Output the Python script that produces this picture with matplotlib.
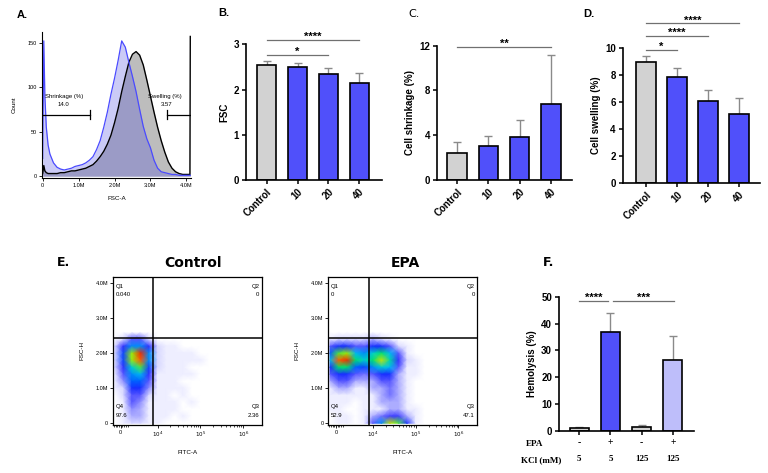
import numpy as np
import matplotlib
matplotlib.use('Agg')
import matplotlib.pyplot as plt
from matplotlib.colors import LinearSegmentedColormap

plt.rcParams['font.family'] = ['Liberation Sans', 'DejaVu Sans']

# ---------------- data ----------------
# A: FSC histogram (x in millions)
fsc_x = [0.0, 0.03, 0.06, 0.1, 0.15, 0.2, 0.3, 0.4, 0.5, 0.6, 0.7, 0.8, 0.9, 1.0,
         1.1, 1.2, 1.3, 1.4, 1.5, 1.6, 1.7, 1.8, 1.9, 2.0, 2.1, 2.2, 2.3, 2.4,
         2.5, 2.6, 2.7, 2.8, 2.9, 3.0, 3.1, 3.2, 3.3, 3.4, 3.5, 3.6, 3.7, 3.8,
         3.9, 4.0, 4.1, 4.11]
fsc_control = [3, 12, 6, 4, 3, 3, 3, 3, 4, 4, 5, 6, 6, 7,
               8, 9, 11, 13, 17, 22, 28, 36, 46, 60, 76, 95, 112, 128,
               137, 140, 136, 125, 108, 90, 72, 55, 40, 27, 16, 9, 5, 3,
               2, 2, 2, 157]
fsc_epa = [20, 152, 90, 55, 35, 25, 15, 10, 8, 7, 8, 9, 11, 12,
           13, 15, 18, 22, 30, 40, 55, 72, 92, 110, 130, 152, 145, 128,
           112, 95, 75, 56, 42, 32, 18, 9, 5, 4, 3, 2, 2, 1,
           1, 1, 1, 1]

# B-D: dose response
doses = ['Control', '10', '20', '40']
fsc_mean = [2.55, 2.50, 2.34, 2.15]
fsc_sd = [0.08, 0.08, 0.13, 0.21]
shrink_mean = [2.45, 3.0, 3.85, 6.75]
shrink_sd = [0.95, 0.9, 1.55, 4.45]
swell_mean = [8.95, 7.9, 6.1, 5.1]
swell_sd = [0.5, 0.62, 0.78, 1.18]

# F: hemolysis
epa_row = ['-', '+', '-', '+']
kcl_row = ['5', '5', '125', '125']
hemo_mean = [1.0, 36.8, 1.2, 26.3]
hemo_sd = [0.5, 7.0, 0.8, 8.9]

# E: flow density grids (x in log-decades, y in millions), rows listed top -> bottom
flow_u = [3.0, 3.2, 3.4, 3.6, 3.8, 4.0, 4.2, 4.4, 4.6, 4.8, 5.0, 5.2, 5.4]
flow_y = [2.6, 2.4, 2.2, 2.0, 1.8, 1.6, 1.4, 1.2, 1.0, 0.8, 0.6, 0.4, 0.2, 0.0]
dens_control = [
    [0, 0, 0, 0, 0, 0, 0, 0, 0, 0, 0, 0, 0],
    [0, 0.5, 1.5, 1.5, 0.5, 0, 0, 0, 0, 0, 0, 0, 0],
    [0.5, 2, 4, 4, 2, 0.5, 0.3, 0.3, 0, 0, 0, 0, 0],
    [0.5, 3, 7, 9.5, 4, 0.5, 0.3, 0.3, 0.3, 0.3, 0, 0, 0],
    [0.5, 3, 7, 9, 4, 0.5, 0.3, 0.3, 0.3, 0.3, 0.3, 0, 0],
    [0.5, 2, 5, 6.5, 3, 0.5, 0.3, 0.3, 0.3, 0, 0, 0, 0],
    [0.3, 1.5, 4, 4.5, 2, 0.3, 0.3, 0.3, 0.3, 0.3, 0, 0, 0],
    [0.3, 1, 3.5, 3.5, 1.5, 0.3, 0.3, 0.3, 0, 0, 0, 0, 0],
    [0.3, 0.5, 2.5, 2.5, 1, 0.3, 0.3, 0.3, 0.3, 0, 0, 0, 0],
    [0, 0.5, 1.5, 1.5, 0.5, 0.3, 0.3, 0, 0.3, 0, 0, 0, 0],
    [0, 0.3, 1.5, 1, 0.3, 0.3, 0.3, 0.3, 0, 0.3, 0, 0, 0],
    [0, 0.3, 1, 0.8, 0.3, 0.3, 0.3, 0.3, 0, 0, 0, 0, 0],
    [0, 0.3, 0.8, 0.8, 0.3, 0.3, 0.3, 0, 0.3, 0, 0, 0, 0],
    [0, 0.3, 0.5, 0.5, 0.3, 0.3, 0, 0, 0, 0, 0, 0, 0],
]
dens_epa = [
    [0, 0, 0, 0, 0, 0, 0, 0, 0, 0, 0, 0, 0],
    [0.3, 0.5, 0.5, 0.5, 0.5, 0.8, 0.5, 0.3, 0, 0, 0, 0, 0],
    [1.5, 2.5, 2.5, 1.5, 1.5, 2.5, 2.5, 1.5, 0.5, 0.3, 0, 0, 0],
    [3.5, 6.5, 7, 4.5, 4, 5, 6, 4.5, 1.5, 0.3, 0, 0, 0],
    [4.5, 9, 9.5, 6, 5, 6, 7.5, 5.5, 2, 0.5, 0.3, 0, 0],
    [2.5, 6, 6, 3.5, 3, 4, 5, 4.5, 1.5, 0.3, 0.3, 0, 0],
    [1.5, 2.5, 2.5, 1.5, 1.2, 1.5, 2.5, 2.5, 0.8, 0.3, 0.3, 0, 0],
    [0.8, 1.5, 1.5, 0.8, 0.8, 0.8, 1.5, 1.5, 0.8, 0.3, 0, 0, 0],
    [0.3, 0.8, 0.8, 0.3, 0.3, 0.8, 0.8, 1.2, 0.8, 0.3, 0, 0, 0],
    [0.3, 0.3, 0.3, 0.3, 0.3, 0.3, 0.8, 1.2, 0.8, 0.3, 0, 0, 0],
    [0.3, 0.3, 0.3, 0, 0.3, 0.3, 0.8, 0.8, 0.8, 0.3, 0, 0, 0],
    [0.3, 0.3, 0, 0, 0.3, 0.3, 0.3, 0.8, 0.8, 0.3, 0.3, 0, 0],
    [0, 0.3, 0.3, 0, 0.3, 0.8, 1.2, 1.8, 1.8, 0.8, 0.3, 0, 0],
    [0, 0.3, 0.3, 0, 0.3, 1.5, 4, 7.5, 6.5, 2.5, 0.3, 0, 0],
]
quad_control = ['0.040', '0', '2.36', '97.6']
quad_epa = ['0', '0', '47.1', '52.9']

GRAY = '#d2d2d2'
BLUE = '#5050fa'
LIGHT = '#bebefa'
ERR = '#8a8a8a'
W, H = 768, 473


def rect(l, r, t, b):
    return [l / W, 1 - b / H, (r - l) / W, (b - t) / H]


fig = plt.figure(figsize=(7.68, 4.73), dpi=100)


def bar_panel(ax, means, sds, colors, ylim, yticks, ylabel, xlim):
    x = np.arange(len(means))
    ax.errorbar(x, means, yerr=[np.zeros(len(sds)), sds], fmt='none',
                ecolor=ERR, elinewidth=1, capsize=3, capthick=1, zorder=1)
    ax.bar(x, means, width=0.62, color=colors, edgecolor='black',
           linewidth=1.2, zorder=2)
    ax.set_xlim(*xlim)
    ax.set_ylim(*ylim)
    ax.set_yticks(yticks)
    ax.set_yticklabels([str(t) for t in yticks], fontsize=7, fontweight='bold')
    ax.set_ylabel(ylabel, fontsize=7, fontweight='bold', labelpad=3)
    for s in ['top', 'right']:
        ax.spines[s].set_visible(False)
    for s in ['left', 'bottom']:
        ax.spines[s].set_linewidth(1.2)
    ax.tick_params(width=1.1, length=3, pad=2)


def sig(ax, x0, x1, y, stars):
    ax.plot([x0, x1], [y, y], color='#707070', lw=0.9, clip_on=False)
    ax.annotate(stars, xy=((x0 + x1) / 2, y), xytext=(0, -1.5),
                textcoords='offset points', ha='center', va='bottom',
                fontsize=8, fontweight='bold', annotation_clip=False)


def dose_xticks(ax):
    ax.set_xticks(range(len(doses)))
    ax.set_xticklabels(doses, rotation=45, ha='right', rotation_mode='anchor',
                       fontsize=7, fontweight='bold')


# ---------------- A ----------------
axA = fig.add_axes(rect(42, 191, 32, 178))
axA.fill_between(fsc_x, fsc_control, color='#bdbdbd', lw=0)
axA.fill_between(fsc_x, fsc_epa, color='#4646e0', alpha=0.28, lw=0)
axA.plot(fsc_x, fsc_control, color='black', lw=1)
axA.plot(fsc_x, fsc_epa, color='#4a4aff', lw=0.9)
axA.set_xlim(-0.02, 4.13)
axA.set_ylim(-2, 162)
axA.set_xticks([0, 1, 2, 3, 4])
axA.set_xticklabels(['0', '1.0M', '2.0M', '3.0M', '4.0M'])
axA.set_yticks([0, 50, 100, 150])
for s in ['top', 'right']:
    axA.spines[s].set_visible(False)
axA.tick_params(labelsize=4, length=2, width=0.6, pad=1.5)
axA.set_xlabel('FSC-A', fontsize=4.5, labelpad=6)
axA.set_ylabel('Count', fontsize=4.5, labelpad=8)
axA.plot([0, 1.33], [69, 69], color='black', lw=0.9)
axA.plot([1.33, 1.33], [64, 74], color='black', lw=0.9)
axA.plot([3.45, 4.12], [69, 69], color='black', lw=0.9)
axA.plot([3.45, 3.45], [64, 74], color='black', lw=0.9)
axA.text(0.06, 90, 'Shrinkage (%)', fontsize=4.3, va='center')
axA.text(0.57, 81, '14.0', fontsize=4.3, va='center', ha='center')
axA.text(3.4, 90, 'Swelling (%)', fontsize=4.3, va='center', ha='center')
axA.text(3.45, 81, '3.57', fontsize=4.3, va='center', ha='center')

# ---------------- B ----------------
colors4 = [GRAY, BLUE, BLUE, BLUE]
axB = fig.add_axes(rect(246, 382, 44.3, 180))
bar_panel(axB, fsc_mean, fsc_sd, colors4, (0, 3), [0, 1, 2, 3], 'FSC', (-0.67, 3.74))
dose_xticks(axB)
sig(axB, 0, 2, 2.76, '*')
sig(axB, 0, 3, 3.1, '****')

# ---------------- C ----------------
axC = fig.add_axes(rect(437, 572, 45.7, 180))
bar_panel(axC, shrink_mean, shrink_sd, colors4, (0, 12), [0, 4, 8, 12],
          'Cell shrinkage (%)', (-0.64, 3.67))
dose_xticks(axC)
sig(axC, 0, 3, 11.9, '**')

# ---------------- D ----------------
axD = fig.add_axes(rect(622.7, 760, 48.3, 182.7))
bar_panel(axD, swell_mean, swell_sd, colors4, (0, 10), [0, 2, 4, 6, 8, 10],
          'Cell swelling (%)', (-0.75, 3.68))
dose_xticks(axD)
sig(axD, 0, 1, 9.88, '*')
sig(axD, 0, 2, 10.92, '****')
sig(axD, 0, 3, 11.86, '****')

# ---------------- F ----------------
axF = fig.add_axes(rect(559, 694, 296.7, 430.7))
bar_panel(axF, hemo_mean, hemo_sd, [GRAY, BLUE, GRAY, LIGHT], (0, 50),
          [0, 10, 20, 30, 40, 50], 'Hemolysis (%)', (-0.65, 3.68))
axF.set_xticks(range(4))
axF.set_xticklabels([])
tr = axF.get_xaxis_transform()
for i in range(4):
    axF.text(i, -0.085, epa_row[i], transform=tr, ha='center', va='center',
             fontsize=7, fontweight='bold', family='Liberation Serif')
    axF.text(i, -0.212, kcl_row[i], transform=tr, ha='center', va='center',
             fontsize=6.5, fontweight='bold', family='Liberation Serif')
fig.text(535 / W, 1 - 444 / H, 'EPA', ha='center', va='center', fontsize=6.5,
         fontweight='bold', family='Liberation Serif')
fig.text(541 / W, 1 - 460 / H, 'KCl (mM)', ha='center', va='center', fontsize=6.5,
         fontweight='bold', family='Liberation Serif')
sig(axF, 0, 0.93, 48.5, '****')
sig(axF, 1.07, 3.03, 48.5, '***')

# ---------------- E ----------------
cmap = LinearSegmentedColormap.from_list('flow', [
    (0.0, '#ffffff'), (0.03, '#ececff'), (0.06, '#c8c8ff'), (0.12, '#6e6eff'),
    (0.22, '#2020ff'), (0.35, '#0060ff'), (0.47, '#00c8f0'), (0.6, '#00e070'),
    (0.72, '#b0f000'), (0.82, '#ffd000'), (0.9, '#ff6000'), (1.0, '#e00000')])


def flow_panel(ax, dens, quad):
    U, Y = np.meshgrid(flow_u, flow_y)
    ax.pcolormesh(U, Y, np.array(dens), shading='gouraud', cmap=cmap,
                  vmin=0, vmax=10, zorder=0)
    ax.set_xlim(2.96, 6.44)
    ax.set_ylim(-0.05, 4.18)
    ax.axvline(3.9, color='black', lw=1.1)
    ax.axhline(2.45, color='black', lw=1.1)
    ax.set_yticks([0, 1, 2, 3, 4])
    ax.set_yticklabels(['0', '1.0M', '2.0M', '3.0M', '4.0M'])
    ax.set_xticks([3.14, 4, 5, 6])
    ax.set_xticklabels(['0', '$10^4$', '$10^5$', '$10^6$'])
    minor = [2.98, 3.02, 3.06, 3.1, 3.18, 3.22, 3.26, 3.3]
    minor += list(np.log10(np.arange(2, 10) * 1e4)) + list(np.log10(np.arange(2, 10) * 1e5))
    ax.set_xticks(minor, minor=True)
    ax.tick_params(labelsize=4, length=2, width=0.6, pad=1.5)
    ax.tick_params(axis='x', which='minor', length=1.3, width=0.5)
    for s in ax.spines.values():
        s.set_linewidth(0.9)
    ax.set_xlabel('FITC-A', fontsize=4.5, labelpad=8)
    ax.set_ylabel('FSC-H', fontsize=4.5, labelpad=8)
    kw = dict(fontsize=4.3)
    ax.text(3.02, 3.92, 'Q1', va='center', **kw)
    ax.text(3.02, 3.67, quad[0], va='center', **kw)
    ax.text(6.38, 3.92, 'Q2', va='center', ha='right', **kw)
    ax.text(6.38, 3.67, quad[1], va='center', ha='right', **kw)
    ax.text(6.38, 0.47, 'Q3', va='center', ha='right', **kw)
    ax.text(6.38, 0.22, quad[2], va='center', ha='right', **kw)
    ax.text(3.02, 0.47, 'Q4', va='center', **kw)
    ax.text(3.02, 0.22, quad[3], va='center', **kw)


axE1 = fig.add_axes(rect(113, 262, 277, 425))
flow_panel(axE1, dens_control, quad_control)
axE2 = fig.add_axes(rect(328.3, 477.3, 277, 425))
flow_panel(axE2, dens_epa, quad_epa)
fig.text(193 / W, 1 - 263 / H, 'Control', ha='center', va='center', fontsize=10,
         fontweight='bold', family='DejaVu Sans')
fig.text(405 / W, 1 - 263 / H, 'EPA', ha='center', va='center', fontsize=10,
         fontweight='bold', family='DejaVu Sans')

# ---------------- panel letters ----------------
fig.text(17 / W, 1 - 15 / H, 'A.', fontsize=8, fontweight='bold', va='center')
fig.text(218 / W, 1 - 13 / H, 'B.', fontsize=8, fontweight='bold', va='center')
fig.text(408 / W, 1 - 14 / H, 'C.', fontsize=8, va='center', family='DejaVu Sans')
fig.text(583 / W, 1 - 14 / H, 'D.', fontsize=8, fontweight='bold', va='center')
fig.text(57 / W, 1 - 263 / H, 'E.', fontsize=9, fontweight='bold', va='center',
         family='DejaVu Sans')
fig.text(543 / W, 1 - 263 / H, 'F.', fontsize=9, fontweight='bold', va='center',
         family='DejaVu Sans')

fig.savefig('out.png', dpi=100)
